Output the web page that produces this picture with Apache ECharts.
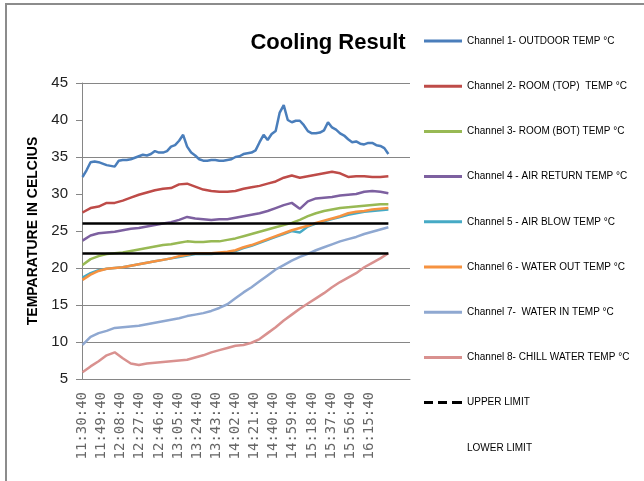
<!DOCTYPE html>
<html>
<head>
<meta charset="utf-8">
<script src="https://cdn.jsdelivr.net/npm/echarts@6/dist/echarts.min.js"></script>
<style>
  html, body { margin: 0; padding: 0; background: #fff; }
  #chart { width: 644px; height: 481px; }
</style>
</head>
<body>
<div id="chart"></div>
<script>
// time axis: one category per minute, first reading at 11:30:40
const startHour = 11
const startMin = 30
const categoryCount = 326
const labelEvery = 19
const lastLabelIndex = 285

// sampled readings (ch1 every 4 min, others every 8 min)
const fineStep = 4
const coarseStep = 8

const ch1 = [32.3, 33.2, 34.3, 34.4, 34.3, 34.1, 33.9, 33.8, 33.7, 34.5,
  34.6, 34.6, 34.7, 34.9, 35.1, 35.3, 35.2, 35.4, 35.8, 35.6,
  35.6, 35.8, 36.4, 36.6, 37.2, 38.0, 36.4, 35.6, 35.2, 34.7,
  34.5, 34.5, 34.6, 34.6, 34.5, 34.5, 34.6, 34.7, 35.0, 35.1,
  35.4, 35.5, 35.6, 35.9, 37.0, 38.0, 37.3, 38.1, 38.5, 41.0,
  42.0, 40.0, 39.7, 39.9, 39.9, 39.3, 38.5, 38.2, 38.2, 38.3,
  38.6, 39.7, 39.0, 38.7, 38.2, 37.9, 37.4, 37.0, 37.1, 36.8,
  36.7, 36.9, 36.9, 36.6, 36.5, 36.2, 35.4]
const ch2 = [27.5, 28.1, 28.3, 28.8, 28.8, 29.1, 29.5, 29.9, 30.2, 30.5,
  30.7, 30.8, 31.3, 31.4, 31.0, 30.6, 30.4, 30.3, 30.3, 30.4,
  30.7, 30.9, 31.1, 31.4, 31.7, 32.2, 32.5, 32.2, 32.4, 32.6,
  32.8, 33.0, 32.8, 32.3, 32.4, 32.4, 32.3, 32.3, 32.4]
const ch3 = [20.4, 21.2, 21.6, 21.9, 22.0, 22.1, 22.3, 22.5, 22.7, 22.9,
  23.1, 23.2, 23.4, 23.6, 23.5, 23.5, 23.6, 23.6, 23.8, 24.0,
  24.3, 24.6, 24.9, 25.2, 25.5, 25.8, 26.1, 26.5, 27.0, 27.4,
  27.7, 27.9, 28.1, 28.2, 28.3, 28.4, 28.5, 28.6, 28.6]
const ch4 = [23.7, 24.4, 24.7, 24.8, 24.9, 25.1, 25.3, 25.4, 25.6, 25.8,
  26.0, 26.2, 26.5, 26.9, 26.7, 26.6, 26.5, 26.6, 26.6, 26.8,
  27.0, 27.2, 27.4, 27.7, 28.1, 28.5, 28.8, 28.0, 29.0, 29.4,
  29.5, 29.6, 29.8, 29.9, 30.0, 30.3, 30.4, 30.3, 30.1]
const ch5 = [18.7, 19.3, 19.7, 19.9, 20.0, 20.1, 20.3, 20.5, 20.7, 20.9,
  21.1, 21.3, 21.5, 21.7, 21.9, 21.9, 21.9, 22.0, 22.1, 22.3,
  22.7, 23.0, 23.4, 23.8, 24.2, 24.6, 25.0, 24.8, 25.6, 26.0,
  26.3, 26.6, 26.9, 27.2, 27.4, 27.6, 27.7, 27.8, 27.9]
const ch6 = [18.4, 19.1, 19.6, 19.9, 20.0, 20.1, 20.3, 20.5, 20.7, 20.9,
  21.1, 21.3, 21.6, 21.8, 22.0, 22.0, 22.0, 22.1, 22.2, 22.4,
  22.8, 23.1, 23.5, 23.9, 24.3, 24.7, 25.1, 25.4, 25.7, 26.1,
  26.4, 26.7, 27.0, 27.4, 27.6, 27.7, 27.9, 28.0, 28.1]
const ch7 = [9.6, 10.7, 11.2, 11.5, 11.9, 12.0, 12.1, 12.2, 12.4, 12.6,
  12.8, 13.0, 13.2, 13.5, 13.7, 13.9, 14.2, 14.6, 15.1, 15.9,
  16.7, 17.4, 18.2, 19.0, 19.8, 20.4, 21.0, 21.5, 21.9, 22.4,
  22.8, 23.2, 23.6, 23.9, 24.2, 24.6, 24.9, 25.2, 25.5]
const ch8 = [5.9, 6.7, 7.4, 8.2, 8.6, 7.8, 7.1, 6.9, 7.1, 7.2,
  7.3, 7.4, 7.5, 7.6, 7.9, 8.2, 8.6, 8.9, 9.2, 9.5,
  9.6, 9.9, 10.4, 11.2, 12.0, 12.9, 13.7, 14.5, 15.2, 15.9,
  16.6, 17.4, 18.1, 18.7, 19.3, 20.1, 20.7, 21.3, 22.0]

const upperLimit = 26
const lowerLimit = 22

const channelNames = [
  'Channel 1- OUTDOOR TEMP °C',
  'Channel 2- ROOM (TOP)  TEMP °C',
  'Channel 3- ROOM (BOT) TEMP °C',
  'Channel 4 - AIR RETURN TEMP °C',
  'Channel 5 - AIR BLOW TEMP °C',
  'Channel 6 - WATER OUT TEMP °C',
  'Channel 7-  WATER IN TEMP °C',
  'Channel 8- CHILL WATER TEMP °C',
]
const channelColors = ['#4A7EBB', '#BE4B48', '#98B954', '#7D60A0', '#46AAC5', '#F69240', '#8FA8D1', '#D9918F']

// 生成时间分类
const times = []
for (let i = 0; i < categoryCount; i++) {
  const m = startHour * 60 + startMin + i
  const h = Math.floor(m / 60)
  const mm = String(m % 60).padStart(2, '0')
  times.push(h + ':' + mm + ':40')
}

const channelData = [
  { values: ch1, step: fineStep },
  { values: ch2, step: coarseStep },
  { values: ch3, step: coarseStep },
  { values: ch4, step: coarseStep },
  { values: ch5, step: coarseStep },
  { values: ch6, step: coarseStep },
  { values: ch7, step: coarseStep },
  { values: ch8, step: coarseStep },
]
const lastIndex = (ch2.length - 1) * coarseStep

const lineIcon = 'path://M0,0H38V3H0Z'
const dashIcon = 'path://M0,0H9V3H0Z M14,0H23V3H14Z M28,0H38V3H28Z'
const sans = "'Liberation Sans', Arial, sans-serif"

const channelSeries = channelData.map((c, idx) => ({
  name: channelNames[idx],
  type: 'line',
  showSymbol: false,
  connectNulls: true,
  color: channelColors[idx],
  lineStyle: { width: 2.5, color: channelColors[idx] },
  data: c.values.map((v, k) => [times[k * c.step], v]),
}))

function limitSeries(name, value) {
  return {
    name: name,
    type: 'line',
    showSymbol: false,
    color: '#000',
    data: [],
    markLine: {
      silent: true,
      symbol: 'none',
      label: { show: false },
      lineStyle: { color: '#000', width: 2.5, type: 'solid' },
      data: [[{ coord: [times[0], value] }, { coord: [times[lastIndex], value] }]],
    },
  }
}

const chart = echarts.init(document.getElementById('chart'))

// y轴网格线（原图只显示部分）
const splitColors = ['#868686', '#868686', '#868686', '#868686', 'transparent', 'transparent', '#868686', 'transparent', '#868686']

chart.setOption({
  animation: false,
  title: {
    text: 'Cooling Result',
    left: 323,
    top: 27,
    textAlign: 'center',
    textStyle: { fontFamily: sans, fontSize: 22, fontWeight: 'bold', color: '#000' },
  },
  graphic: [{
    type: 'rect',
    shape: { x: 6, y: 4, width: 700, height: 600 },
    style: { fill: 'none', stroke: '#8c8c8c', lineWidth: 2 },
    silent: true,
  }],
  legend: {
    orient: 'vertical',
    left: 419,
    top: 29,
    itemWidth: 38,
    itemHeight: 14,
    itemGap: 31.2,
    selectedMode: false,
    textStyle: { fontFamily: sans, fontSize: 10, color: '#000', lineHeight: 14 },
    data: channelNames.map(n => ({ name: n, icon: lineIcon }))
      .concat([
        { name: 'UPPER LIMIT', icon: dashIcon },
        { name: 'LOWER LIMIT', icon: lineIcon, itemStyle: { opacity: 0 } },
      ]),
  },
  grid: { left: 82, right: 234, top: 83, bottom: 102 },
  xAxis: {
    type: 'category',
    data: times,
    boundaryGap: true,
    axisLine: { lineStyle: { color: '#868686', width: 1 } },
    axisTick: { interval: 0, length: 6, lineStyle: { color: '#9a9a9a' } },
    axisLabel: {
      rotate: 90,
      margin: 13,
      interval: (index) => index % labelEvery === 0 && index <= lastLabelIndex,
      fontFamily: "'DejaVu Sans Mono', monospace",
      fontSize: 14,
      color: '#666',
    },
  },
  yAxis: {
    type: 'value',
    min: 5,
    max: 45,
    interval: 5,
    name: 'TEMPARATURE IN CELCIUS',
    nameLocation: 'middle',
    nameGap: 40,
    nameTextStyle: { fontFamily: sans, fontSize: 14, fontWeight: 'bold', color: '#000' },
    axisLine: { show: true, lineStyle: { color: '#868686' } },
    axisTick: { show: true, length: 6, lineStyle: { color: '#868686' } },
    axisLabel: { margin: 14, fontFamily: sans, fontSize: 15, color: '#222' },
    splitLine: { show: true, lineStyle: { color: splitColors, width: 1 } },
  },
  series: channelSeries.concat([
    limitSeries('UPPER LIMIT', upperLimit),
    limitSeries('LOWER LIMIT', lowerLimit),
  ]),
})
</script>
</body>
</html>
